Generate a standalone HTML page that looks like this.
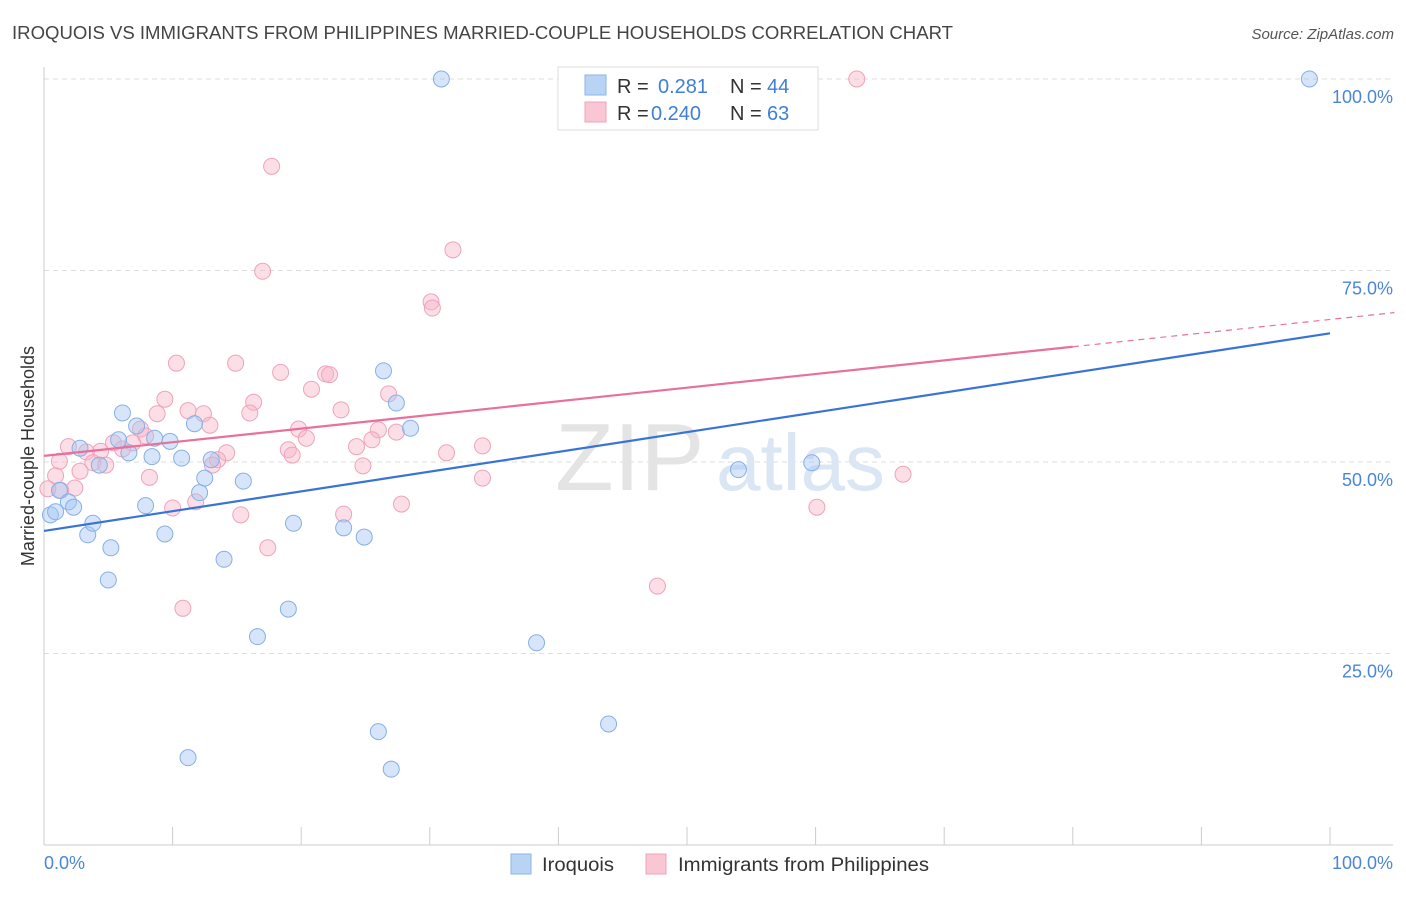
<!DOCTYPE html>
<html><head><meta charset="utf-8">
<style>
body{margin:0;background:#fff;font-family:"Liberation Sans",sans-serif;}
svg text{font-family:"Liberation Sans",sans-serif;}
</style></head>
<body>
<svg id="chart" width="1406" height="892" viewBox="0 0 1406 892" xmlns="http://www.w3.org/2000/svg">
<text x="12" y="39" font-size="18" fill="#444" textLength="941" lengthAdjust="spacingAndGlyphs">IROQUOIS VS IMMIGRANTS FROM PHILIPPINES MARRIED-COUPLE HOUSEHOLDS CORRELATION CHART</text>
<text x="1394" y="39" font-size="15" fill="#555" text-anchor="end" font-style="italic">Source: ZipAtlas.com</text>
<g id="grid"></g>
<g>
<text x="555" y="490" font-size="96" fill="#e4e4e4" font-family="Liberation Serif">ZIP</text>
<text x="716" y="490" font-size="80" fill="#dbe6f4">atlas</text>
</g>
<line x1="44" y1="67" x2="44" y2="845" stroke="#ccc"/>
<line x1="44" y1="845" x2="1393" y2="845" stroke="#ccc"/>
<g id="ticks"></g>
<g id="ylabels"></g>
<text x="44" y="869" font-size="18" fill="#4a86d8">0.0%</text>
<text x="1393" y="869" font-size="18" fill="#4a86d8" text-anchor="end">100.0%</text>
<text transform="translate(34,456) rotate(-90)" font-size="18" fill="#333" text-anchor="middle">Married-couple Households</text>
<g id="pink"></g>
<g id="blue"></g>
<g id="trends"></g>
<g>
<rect x="558" y="67" width="260" height="63" fill="#fff" stroke="#ddd"/>
<rect x="585" y="75" width="21" height="20" fill="#b9d3f5" stroke="#8ab4e8"/>
<rect x="585" y="102" width="21" height="20" fill="#f9c6d4" stroke="#f0a0bc"/>
<text x="617" y="93" font-size="20" fill="#333">R = </text><text x="658" y="93" font-size="20" fill="#3f7fd6">0.281</text>
<text x="730" y="93" font-size="20" fill="#333">N = </text><text x="767" y="93" font-size="20" fill="#3f7fd6">44</text>
<text x="617" y="120" font-size="20" fill="#333">R = </text><text x="651" y="120" font-size="20" fill="#3f7fd6">0.240</text>
<text x="730" y="120" font-size="20" fill="#333">N = </text><text x="767" y="120" font-size="20" fill="#3f7fd6">63</text>
</g>
<g>
<rect x="511" y="854" width="20" height="20" fill="#b9d3f5" stroke="#8ab4e8"/>
<text x="542" y="871" font-size="19" fill="#333" textLength="72" lengthAdjust="spacingAndGlyphs">Iroquois</text>
<rect x="646" y="854" width="20" height="20" fill="#f9c6d4" stroke="#f0a0bc"/>
<text x="678" y="871" font-size="19" fill="#333" textLength="251" lengthAdjust="spacingAndGlyphs">Immigrants from Philippines</text>
</g>
</svg>
<script>
const blueX=[30.9,98.4,0.5,0.9,1.2,1.9,2.3,2.8,3.4,3.8,4.3,5.0,5.2,5.8,6.1,6.6,7.2,7.9,8.4,8.6,9.4,9.8,10.7,11.7,12.1,12.5,13.0,14.0,15.5,16.6,19.0,19.4,11.2,23.3,24.9,26.0,26.4,27.0,27.4,28.5,38.3,43.9,54.0,59.7];
const blueY=[100,100,43.1,43.5,46.3,44.8,44.1,51.8,40.5,42.0,49.6,34.6,38.8,52.9,56.4,51.2,54.7,44.3,50.7,53.1,40.6,52.7,50.5,55.0,46.0,47.9,50.3,37.3,47.5,27.2,30.8,42.0,11.4,41.4,40.2,14.8,61.9,9.9,57.7,54.4,26.4,15.8,49.0,49.9];
const pinkX=[63.2,17.7,31.8,17.0,30.1,30.2,10.3,14.9,18.4,21.9,22.2,20.8,26.8,9.4,16.3,8.8,11.2,12.4,16.0,23.1,12.9,7.5,19.8,27.4,26.0,20.4,7.9,5.4,6.9,1.9,3.3,4.4,6.1,19.0,14.2,24.3,34.1,25.5,31.3,19.3,1.2,3.8,4.8,13.5,13.1,24.8,2.8,0.9,8.2,34.1,66.8,2.4,1.3,0.3,11.8,10.0,27.8,60.1,15.3,23.3,17.4,47.7,10.8];
const pinkY=[100,88.6,77.7,74.9,70.9,70.1,62.9,62.9,61.7,61.5,61.4,59.5,58.9,58.2,57.8,56.3,56.7,56.3,56.4,56.8,54.8,54.3,54.3,53.9,54.2,53.1,53.4,52.5,52.5,52.0,51.3,51.4,51.7,51.6,51.2,52.0,52.1,52.9,51.2,50.9,50.1,49.9,49.6,50.3,49.6,49.5,48.8,48.2,48.0,47.9,48.4,46.6,46.3,46.5,44.8,44.0,44.5,44.1,43.1,43.2,38.8,33.8,30.9];
const yTicks=[25,50,75,100];
const yTickLabels=["25.0%","50.0%","75.0%","100.0%"];
const blueTrend=[41.0,66.8];
const pinkTrend=[50.8,69.5];
const NS="http://www.w3.org/2000/svg";
const xs=v=>44+v*12.86, ys=v=>845-v*7.66;
function mk(tag,attrs,parent){const e=document.createElementNS(NS,tag);for(const k in attrs)e.setAttribute(k,attrs[k]);parent.appendChild(e);return e;}
const grid=document.getElementById('grid'),yl=document.getElementById('ylabels'),tk=document.getElementById('ticks');
yTicks.forEach((t,i)=>{
 const l=mk('line',{x1:44,x2:1393,y1:ys(t),y2:ys(t),stroke:'#ddd','stroke-dasharray':'5,4'},grid);
 
 
 const tx=mk('text',{x:1393,y:ys(t)+24,'font-size':18,fill:'#4a86d8','text-anchor':'end'},yl);
 tx.textContent=yTickLabels[i];
 
 
});
for(let i=0;i<=10;i++){
 const l=mk('line',{x1:xs(i*10),x2:xs(i*10),y1:827,y2:845,stroke:'#ccc'},tk);
 
 
}
function pts(X,Y,g,fill,stroke,name){
 X.forEach((x,i)=>{const c=mk('circle',{cx:xs(x),cy:ys(Y[i]),r:8,fill:fill,stroke:stroke,'stroke-width':1},g);
 
 });
}
pts(pinkX,pinkY,document.getElementById('pink'),'rgba(248,182,202,0.45)','#eea3bb','philippines-point');
pts(blueX,blueY,document.getElementById('blue'),'rgba(165,198,242,0.45)','#86b0e6','iroquois-point');
const tr=document.getElementById('trends');
const bl=mk('line',{x1:xs(0),y1:ys(blueTrend[0]),x2:xs(100),y2:ys(blueTrend[1]),stroke:'#3874d6','stroke-width':2.2},tr);


const ps=(pinkTrend[1]-pinkTrend[0])/105;
const pl=mk('line',{x1:xs(0),y1:ys(pinkTrend[0]),x2:xs(80),y2:ys(pinkTrend[0]+ps*80),stroke:'#e8709a','stroke-width':2.2},tr);


const pd=mk('line',{x1:xs(80),y1:ys(pinkTrend[0]+ps*80),x2:xs(105),y2:ys(pinkTrend[1]),stroke:'#e8709a','stroke-width':1.2,'stroke-dasharray':'6,5'},tr);


</script>
</body></html>
